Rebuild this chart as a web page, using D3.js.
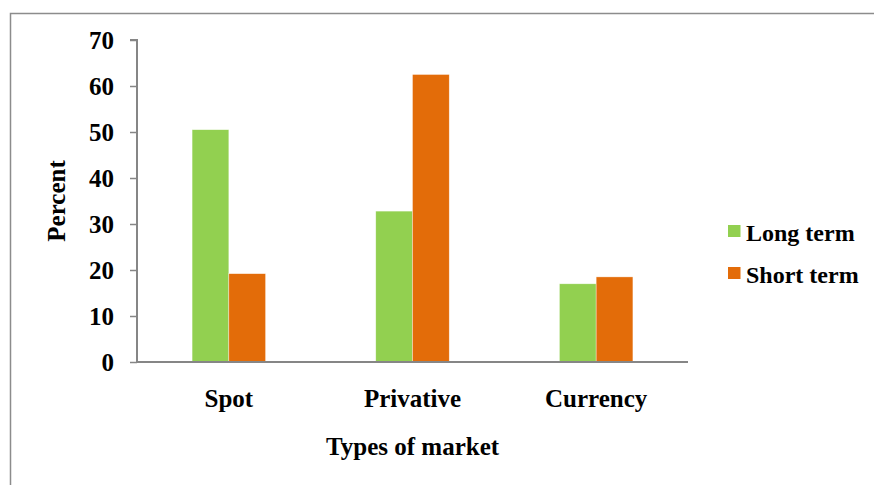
<!DOCTYPE html>
<html><head><meta charset="utf-8">
<script src="https://cdn.jsdelivr.net/npm/d3@7"></script>
<style>body{margin:0;background:#fff}svg{display:block}text{font-family:"Liberation Serif","Times New Roman",serif;font-weight:bold;fill:#000}</style>
</head><body>
<svg id="c" width="874" height="485"></svg>
<script>
const categories = ["Spot", "Privative", "Currency"];
const seriesNames = ["Long term", "Short term"];
const longTerm = [50.5, 32.8, 17.0];
const shortTerm = [19.2, 62.5, 18.5];
const yTicks = [0, 10, 20, 30, 40, 50, 60, 70];
const colors = ["#92D050", "#E36C09"];

const svg = d3.select("#c");
const m = {left: 137, right: 688, top: 40, bottom: 362};
const fs = 25;

// frame
svg.append("path").attr("d", "M10.5,485 V13.5 H874").attr("fill", "none").attr("stroke", "#8c8c8c").attr("stroke-width", 1.5);

const x0 = d3.scaleBand().domain(categories).range([m.left, m.right]).paddingInner(0.6).paddingOuter(0.3);
const x1 = d3.scaleBand().domain(seriesNames).range([0, x0.bandwidth()]);
const y = d3.scaleLinear().domain([0, 70]).range([m.bottom, m.top]);

const data = [longTerm, shortTerm];
seriesNames.forEach((s, si) => {
  svg.append("g").selectAll("rect").data(categories).join("rect")
    .attr("x", c => x0(c) + x1(s))
    .attr("width", x1.bandwidth())
    .attr("y", (c, i) => y(data[si][i]))
    .attr("height", (c, i) => y(0) - y(data[si][i]))
    .attr("fill", colors[si])
    .attr("stroke", "#fff").attr("stroke-width", 0.6).attr("stroke-opacity", 0.6);
});

// y axis
const ya = svg.append("g").attr("transform", `translate(${m.left},0)`)
  .call(d3.axisLeft(y).tickValues(yTicks).tickSize(7).tickPadding(16));
ya.select(".domain").attr("stroke", "#868686").attr("stroke-width", 2).attr("d", `M-7,${y(70)}H0V${y(0)}`);
ya.selectAll(".tick line").attr("stroke", "#868686").attr("stroke-width", 1.5);
ya.selectAll(".tick text").attr("font-size", fs).attr("font-family", "Liberation Serif").attr("font-weight", "bold").attr("fill", "#000").attr("dy", "0.33em");

// x axis
const xa = svg.append("g").attr("transform", `translate(0,${m.bottom})`)
  .call(d3.axisBottom(x0).tickSize(0).tickPadding(45));
xa.select(".domain").attr("stroke", "#868686").attr("stroke-width", 2).attr("d", `M${m.left},0H${m.right}`);
xa.selectAll(".tick text").attr("font-size", fs).attr("font-family", "Liberation Serif").attr("font-weight", "bold").attr("fill", "#000").attr("dy", 0);

// axis titles
svg.append("text").attr("x", (m.left + m.right) / 2).attr("y", 455).attr("text-anchor", "middle").attr("font-size", fs).text("Types of market");
svg.append("text").attr("transform", `translate(65,${(m.top + m.bottom) / 2}) rotate(-90)`).attr("text-anchor", "middle").attr("font-size", fs).text("Percent");

// legend
const lg = svg.append("g");
seriesNames.forEach((s, i) => {
  lg.append("rect").attr("x", 728).attr("y", 225 + i * 42).attr("width", 12.5).attr("height", 12).attr("fill", colors[i]);
  lg.append("text").attr("x", 746).attr("y", 241 + i * 42).attr("font-size", 24).text(s);
});
</script>
</body></html>
